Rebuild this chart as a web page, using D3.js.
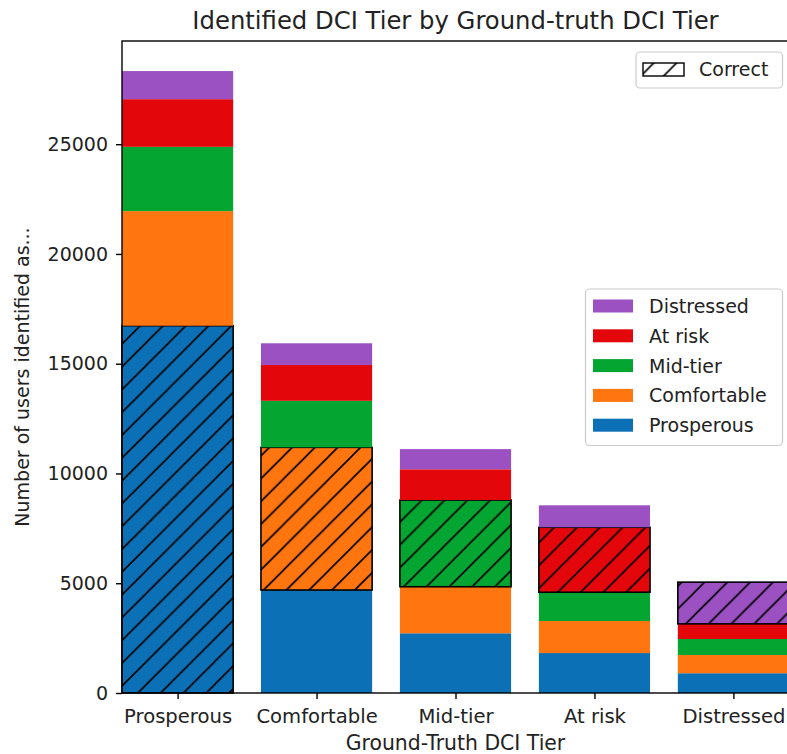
<!DOCTYPE html>
<html>
<head>
<meta charset="utf-8">
<script src="https://cdn.jsdelivr.net/npm/d3@7"></script>
<style>
  html, body { margin: 0; padding: 0; background: #fff; }
  svg { display: block; font-family: "DejaVu Sans", sans-serif; }
</style>
</head>
<body>
<div id="chart"></div>
<script>
// Ground-truth tiers (x categories)
const categories = ["Prosperous", "Comfortable", "Mid-tier", "At risk", "Distressed"];
// Identified-as series (stack order bottom -> top)
const seriesNames = ["Prosperous", "Comfortable", "Mid-tier", "At risk", "Distressed"];
const identifiedProsperous  = [16730, 4690, 2720, 1820, 900];
const identifiedComfortable = [5220, 6500, 2120, 1460, 830];
const identifiedMidTier     = [2930, 2120, 3950, 1310, 730];
const identifiedAtRisk      = [2170, 1630, 1400, 2960, 690];
const identifiedDistressed  = [1280, 990, 920, 1000, 1900];
const yTicks = [0, 5000, 10000, 15000, 20000, 25000];
const colors = ["#0b70b5", "#ff7510", "#05a532", "#e3060b", "#9b51c1"];

const seriesValues = [identifiedProsperous, identifiedComfortable, identifiedMidTier, identifiedAtRisk, identifiedDistressed];

(function () {
const W = 787, H = 754;
const mLeft = 122, mRight = 789, mTop = 41, mBottom = 693;

const svg = d3.select("#chart").append("svg").attr("width", W).attr("height", H);

const x = d3.scaleLinear().domain([-0.4, 4.4]).range([mLeft, mRight]);
const y = d3.scaleLinear().domain([0, 29700]).range([mBottom, mTop]);

// hatch patterns
const defs = svg.append("defs");
const P = 22.8;
function makePattern(id, fill) {
  const p = defs.append("pattern").attr("id", id)
    .attr("patternUnits", "userSpaceOnUse").attr("width", P).attr("height", P)
    .attr("patternTransform", "translate(10,0)");
  p.append("rect").attr("width", P).attr("height", P).attr("fill", fill);
  p.append("path")
    .attr("d", `M-2,${P+2}L${P+2},-2 M-2,2L2,-2 M${P-2},${P+2}L${P+2},${P-2}`)
    .attr("stroke", "#000").attr("stroke-width", 1.6).attr("fill", "none");
}
colors.forEach((c, i) => makePattern("hatch" + i, c));
makePattern("hatchW", "#fff");

// stack
const rows = categories.map((c, i) => {
  const r = { cat: c, idx: i };
  seriesNames.forEach((s, j) => r[s] = seriesValues[j][i]);
  return r;
});
const stack = d3.stack().keys(seriesNames)(rows);

const plot = svg.append("g");
stack.forEach((layer, j) => {
  plot.selectAll(null).data(layer).enter().append("rect")
    .attr("x", d => x(d.data.idx - 0.4))
    .attr("width", d => x(d.data.idx + 0.4) - x(d.data.idx - 0.4))
    .attr("y", d => y(d[1]))
    .attr("height", d => y(d[0]) - y(d[1]))
    .attr("fill", d => d.data.idx === j ? `url(#hatch${j})` : colors[j])
    .attr("stroke", d => d.data.idx === j ? "#000" : "none")
    .attr("stroke-width", 1.6);
});

// spines
svg.append("rect").attr("x", mLeft).attr("y", mTop)
  .attr("width", mRight - mLeft).attr("height", mBottom - mTop)
  .attr("fill", "none").attr("stroke", "#000").attr("stroke-width", 1.4);

// axes
const xAxis = d3.axisBottom(x).tickValues(d3.range(categories.length))
  .tickFormat(i => categories[i]).tickSize(6).tickPadding(10.5);
const gx = svg.append("g").attr("transform", `translate(0,${mBottom})`).call(xAxis);
gx.select(".domain").remove();
gx.selectAll("text").attr("font-size", 19.6).attr("fill", "#222").attr("font-family", "DejaVu Sans");
gx.selectAll("line").attr("stroke", "#000").attr("stroke-width", 1.4);

const yAxis = d3.axisLeft(y).tickValues(yTicks).tickFormat(d3.format("d")).tickSize(6).tickPadding(8);
const gy = svg.append("g").attr("transform", `translate(${mLeft},0)`).call(yAxis);
gy.select(".domain").remove();
gy.selectAll("text").attr("font-size", 19).attr("fill", "#222").attr("font-family", "DejaVu Sans");
gy.selectAll("line").attr("stroke", "#000").attr("stroke-width", 1.4);

// title & labels
svg.append("text").attr("x", (mLeft + mRight) / 2).attr("y", 28.5)
  .attr("text-anchor", "middle").attr("font-size", 24.3).attr("fill", "#222")
  .text("Identified DCI Tier by Ground-truth DCI Tier");
svg.append("text").attr("x", (mLeft + mRight) / 2).attr("y", 750)
  .attr("text-anchor", "middle").attr("font-size", 20.4).attr("fill", "#222")
  .text("Ground-Truth DCI Tier");
svg.append("text").attr("transform", `translate(29,377) rotate(-90)`)
  .attr("text-anchor", "middle").attr("font-size", 19).attr("fill", "#222")
  .text("Number of users identified as...");

// legend: Correct
const lg1 = svg.append("g");
lg1.append("rect").attr("x", 636).attr("y", 52).attr("width", 146.5).attr("height", 36)
  .attr("rx", 4).attr("fill", "#fff").attr("fill-opacity", 0.8).attr("stroke", "#ccc").attr("stroke-width", 1.2);
lg1.append("rect").attr("x", 643).attr("y", 63).attr("width", 41).attr("height", 13)
  .attr("fill", "url(#hatchW)").attr("stroke", "#000").attr("stroke-width", 1.4);
lg1.append("text").attr("x", 699).attr("y", 76).attr("font-size", 19).attr("fill", "#222").text("Correct");

// legend: series (top -> bottom reversed)
const lg2 = svg.append("g");
lg2.append("rect").attr("x", 585.5).attr("y", 289).attr("width", 197).attr("height", 156.5)
  .attr("rx", 4).attr("fill", "#fff").attr("fill-opacity", 0.8).attr("stroke", "#ccc").attr("stroke-width", 1.2);
const legItems = seriesNames.map((s, j) => ({ name: s, color: colors[j] })).reverse();
legItems.forEach((d, k) => {
  const cy = 306 + k * 29.8;
  lg2.append("rect").attr("x", 593).attr("y", cy - 6.5).attr("width", 40).attr("height", 13).attr("fill", d.color);
  lg2.append("text").attr("x", 649).attr("y", cy + 7).attr("font-size", 19).attr("fill", "#222").text(d.name);
});
})();
</script>
</body>
</html>
